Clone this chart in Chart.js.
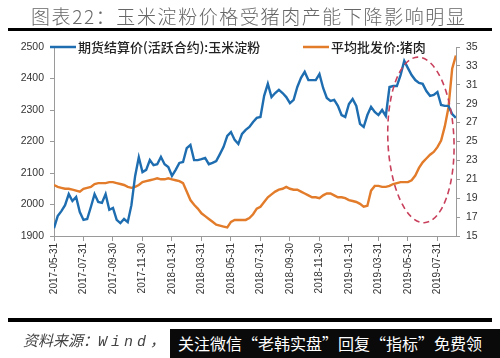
<!DOCTYPE html>
<html><head><meta charset="utf-8">
<script src="https://cdn.jsdelivr.net/npm/chart.js@4.4.0/dist/chart.umd.min.js"></script>
<style>
html,body{margin:0;padding:0;background:#fff;}
#wrap{position:relative;width:500px;height:358px;overflow:hidden;background:#fff;}
#c{position:absolute;left:0;top:0;}
.title{position:absolute;left:31px;top:4px;font-family:"Noto Sans CJK SC";font-weight:300;font-size:19px;line-height:24px;color:#666;letter-spacing:1.6px;white-space:nowrap;}
.rule{position:absolute;left:8px;width:484px;height:3px;background:#000;}
.src{position:absolute;left:23px;top:330px;font-family:"Noto Sans CJK SC";font-style:italic;font-size:15px;line-height:20px;color:#444;white-space:nowrap;}
.src .w{font-family:"Liberation Mono";letter-spacing:4px;}
.box{position:absolute;left:170px;top:329px;width:330px;height:29px;background:#0a0a0a;color:#fff;font-family:"Noto Sans CJK SC";font-size:16px;line-height:29px;padding-left:8px;box-sizing:border-box;white-space:nowrap;}
</style></head>
<body>
<div id="wrap">
<canvas id="c" width="500" height="358"></canvas>
<div class="title">图表22：玉米淀粉价格受猪肉产能下降影响明显</div>
<div class="rule" style="top:28px"></div>
<div class="rule" style="top:318px;height:4px"></div>
<div class="src">资料来源：<span class="w">Wind</span>，</div>
<div class="box">关注微信“老韩实盘”回复“指标”免费领</div>
</div>
<script>
// x tick labels (every 2 months, equally spaced)
const tickLabels = ['2017-05-31','2017-07-31','2017-09-30','2017-11-30','2018-01-31','2018-03-31','2018-05-31','2018-07-31','2018-09-30','2018-11-30','2019-01-31','2019-03-31','2019-05-31','2019-07-31'];
const STEP = 0.25; // months between observations (about one week)
const seriesNames = ['期货结算价(活跃合约):玉米淀粉', '平均批发价:猪肉'];
// 期货结算价(活跃合约):玉米淀粉 (left axis)
const starch = [1925,1963,1979,1998,2033,2011,2024,1976,1951,1954,
 1992,2033,2008,2005,2033,1983,1989,1951,1941,1954,
 1944,1998,2090,2150,2103,2110,2141,2125,2128,2151,
 2128,2119,2091,2110,2132,2135,2179,2189,2141,2141,
 2144,2148,2128,2132,2138,2160,2183,2218,2230,2205,
 2192,2224,2237,2246,2262,2275,2278,2345,2383,2341,
 2354,2364,2354,2341,2322,2332,2373,2402,2421,2395,
 2395,2395,2414,2370,2338,2329,2332,2313,2284,2278,
 2319,2335,2313,2256,2246,2284,2310,2294,2284,2300,
 2281,2373,2376,2376,2411,2456,2433,2411,2395,2386,
 2383,2360,2345,2348,2357,2316,2313,2313,2287,2275];
// 平均批发价:猪肉 (right axis)
const pork = [20.4,20.2,20.1,20.0,20.0,19.9,19.8,19.7,20.0,20.1,
 20.2,20.5,20.6,20.6,20.6,20.7,20.7,20.6,20.5,20.4,
 20.2,20.1,20.2,20.4,20.7,20.8,20.9,21.0,21.1,21.0,
 21.0,21.1,21.0,20.9,20.8,20.6,19.7,18.8,18.3,17.9,
 17.4,17.1,16.8,16.5,16.2,16.1,16.0,15.9,16.5,16.7,
 16.7,16.7,16.7,16.9,17.3,17.9,18.1,18.6,19.1,19.4,
 19.7,19.9,20.0,20.2,20.0,19.9,19.9,19.7,19.5,19.3,
 19.1,19.1,19.0,19.3,19.5,19.5,19.3,19.1,19.1,19.0,
 18.8,18.7,18.6,18.4,18.1,18.2,19.8,20.3,20.3,20.2,
 20.2,20.3,20.5,20.6,20.7,20.7,20.7,20.9,21.4,22.2,
 22.8,23.2,23.6,23.9,24.4,25.1,26.6,28.6,32.7,34.1];
const leftTicks = {min:1900, max:2500, step:100};
const rightTicks = {min:15, max:35, step:2};

const BLUE = '#1d6db0', ORANGE = '#e27b2a';
const toXY = arr => arr.map((v,i)=>({x:i*STEP, y:v}));

const overlay = {
  id:'overlay',
  afterDatasetsDraw(chart){
    const ctx = chart.ctx, xs = chart.scales.x, ys = chart.scales.y;
    const cx = xs.getPixelForValue(24.88), cy = ys.getPixelForValue(2205);
    const rx = xs.getPixelForValue(24.88+2.24)-cx, ry = cy - ys.getPixelForValue(2205+263);
    ctx.save();
    ctx.strokeStyle = '#c8405c'; ctx.lineWidth = 1.6; ctx.setLineDash([6,4]);
    ctx.beginPath(); ctx.ellipse(cx, cy, rx, ry, -0.04, 0, Math.PI*2); ctx.stroke();
    ctx.restore();
  },
  afterDraw(chart){
    const ctx = chart.ctx;
    ctx.save();
    ctx.font = '500 13px "Noto Sans CJK SC"';
    ctx.textBaseline = 'middle';
    ctx.fillStyle = '#222';
    ctx.lineWidth = 2.5;
    ctx.strokeStyle = BLUE;
    ctx.beginPath(); ctx.moveTo(50,47); ctx.lineTo(76,47); ctx.stroke();
    ctx.fillText(seriesNames[0], 78, 47.5);
    ctx.strokeStyle = ORANGE;
    ctx.beginPath(); ctx.moveTo(303,47); ctx.lineTo(329,47); ctx.stroke();
    ctx.fillText(seriesNames[1], 331, 47.5);
    ctx.restore();
  }
};

new Chart(document.getElementById('c'), {
  type:'line',
  data:{datasets:[
    {label:seriesNames[0], data:toXY(starch), yAxisID:'y', borderColor:BLUE, borderWidth:2.4, pointRadius:0, tension:0},
    {label:seriesNames[1], data:toXY(pork), yAxisID:'y1', borderColor:ORANGE, borderWidth:2.4, pointRadius:0, tension:0}
  ]},
  options:{
    responsive:false, animation:false, devicePixelRatio:1,
    layout:{padding:{top:47,left:0,right:0,bottom:0}},
    plugins:{legend:{display:false}, tooltip:{enabled:false}},
    scales:{
      x:{type:'linear', min:0, max:27.26,
        afterFit(s){ s.height = 122; },
        grid:{drawOnChartArea:false, tickLength:5, color:'#9a9a9a'},
        border:{color:'#9a9a9a'},
        ticks:{stepSize:2, includeBounds:false, autoSkip:false, minRotation:90, maxRotation:90, padding:2,
          color:'#333', font:{family:'Liberation Sans', size:10},
          callback:(v)=>tickLabels[Math.round(v/2)] }
      },
      y:{type:'linear', position:'left', min:leftTicks.min, max:leftTicks.max,
        afterFit(s){ s.width = 54; },
        grid:{drawOnChartArea:false, tickLength:4, color:'#9a9a9a'},
        border:{color:'#9a9a9a'},
        ticks:{stepSize:leftTicks.step, padding:6, color:'#333', font:{family:'Liberation Sans', size:10.5},
          callback:(v)=>String(v)}
      },
      y1:{type:'linear', position:'right', min:rightTicks.min, max:rightTicks.max,
        afterFit(s){ s.width = 44; },
        grid:{drawOnChartArea:false, tickLength:4, color:'#9a9a9a'},
        border:{color:'#9a9a9a'},
        ticks:{stepSize:rightTicks.step, padding:6, color:'#333', font:{family:'Liberation Sans', size:10.5},
          callback:(v)=>String(v)}
      }
    }
  },
  plugins:[overlay]
});
</script>
</body></html>
